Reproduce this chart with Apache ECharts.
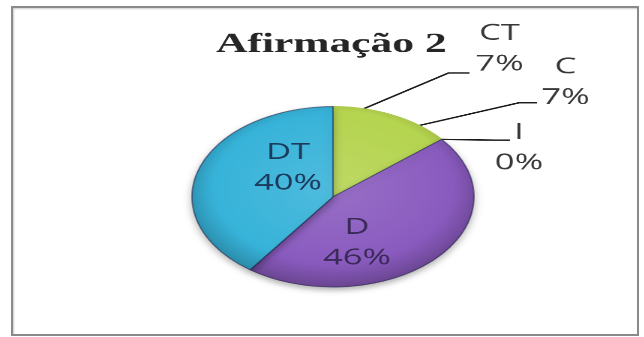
<!DOCTYPE html>
<html>
<head>
<meta charset="utf-8">
<script src="https://cdn.jsdelivr.net/npm/echarts@6/dist/echarts.min.js"></script>
<style>
  html, body { margin: 0; padding: 0; background: #fff; width: 644px; height: 337px; overflow: hidden; }
  #frame { position: absolute; left: 11px; top: 6px; width: 624px; height: 326px; border: 2px solid #8a8a8a; box-shadow: inset 1px 1px 2px rgba(0,0,0,0.2); }
  /* the original picture is stretched sideways, so the chart is too */
  #chart { position: absolute; left: 0; top: 0; width: 429px; height: 351px; transform: scale(1.5, 0.96); transform-origin: 0 0; }
</style>
</head>
<body>
<div id="frame"></div>
<div id="chart"></div>
<script>
const chartTitle = 'Afirmação 2';
const categories = ['CT', 'C', 'I', 'D', 'DT'];
const percentValues = [7, 7, 0, 46, 40];

const sliceColors = ['#b5d44f', '#b5d44f', '#9bbb59', '#8a5bbf', '#37b3d9'];
const labelColors = ['#383838', '#383838', '#383838', '#3a2a58', '#1b3a5c'];

// where each label sits (chart px, before the css stretch)
const labelSpots = [
  { x: 333, y: 51, bend: [299, 76], end: [313, 76] },
  { x: 377, y: 86, bend: [346, 107], end: [358, 107] },
  { x: 346, y: 154, bend: [330, 146], end: [340, 146] },
  { x: 238, y: 253 },
  { x: 192, y: 175 }
];

const pieCenter = [222, 205];
const pieRadius = 94;

function shade(hex, amt) {
  const n = parseInt(hex.slice(1), 16);
  let r = (n >> 16) & 255, g = (n >> 8) & 255, b = n & 255;
  const f = (c) => Math.max(0, Math.min(255, Math.round(amt > 0 ? c + (255 - c) * amt : c * (1 + amt))));
  return 'rgb(' + f(r) + ',' + f(g) + ',' + f(b) + ')';
}

function sliceFill(hex) {
  return {
    type: 'radial', x: pieCenter[0], y: pieCenter[1] - 10, r: pieRadius + 12, global: true,
    colorStops: [
      { offset: 0, color: shade(hex, 0.12) },
      { offset: 0.75, color: hex },
      { offset: 1, color: shade(hex, -0.25) }
    ]
  };
}

const chart = echarts.init(document.getElementById('chart'), null, { devicePixelRatio: 2 });

const pieData = categories.map((name, i) => {
  const inside = i >= 3;
  return {
    name: name,
    value: percentValues[i],
    itemStyle: {
      color: sliceFill(sliceColors[i]),
      // the two green slices melt into one, no seam
      borderColor: inside ? 'rgba(30,30,70,0.55)' : sliceFill(sliceColors[i]),
      borderWidth: 1,
      shadowBlur: inside ? 6 : 0,
      shadowColor: 'rgba(0,0,0,0.3)',
      shadowOffsetY: inside ? 3 : 0
    },
    label: {
      position: inside ? 'inside' : 'outside',
      color: labelColors[i]
    },
    labelLine: { show: !inside }
  };
});

chart.setOption({
  backgroundColor: 'transparent',
  animation: false,
  title: {
    text: chartTitle,
    left: 144,
    top: 32,
    padding: 0,
    textStyle: {
      fontFamily: '"Liberation Serif", "DejaVu Serif", serif',
      fontWeight: 'bold',
      fontSize: 29,
      color: '#262626'
    }
  },
  series: [{
    type: 'pie',
    center: pieCenter,
    radius: pieRadius,
    startAngle: 90,
    clockwise: true,
    silent: true,
    avoidLabelOverlap: false,
    label: {
      show: true,
      formatter: (p) => p.name + '\n' + p.value + '%',
      fontFamily: '"Open Sans", sans-serif',
      fontSize: 23,
      lineHeight: 32,
      align: 'center'
    },
    labelLine: {
      lineStyle: { color: '#1a1a1a', width: 1.5 }
    },
    labelLayout: function (params) {
      const spot = labelSpots[params.dataIndex];
      const out = { x: spot.x, y: spot.y, align: 'center', verticalAlign: 'middle' };
      if (spot.bend && params.labelLinePoints) {
        out.labelLinePoints = [params.labelLinePoints[0], spot.bend, spot.end];
      }
      return out;
    },
    data: pieData
  }]
});
</script>
</body>
</html>
